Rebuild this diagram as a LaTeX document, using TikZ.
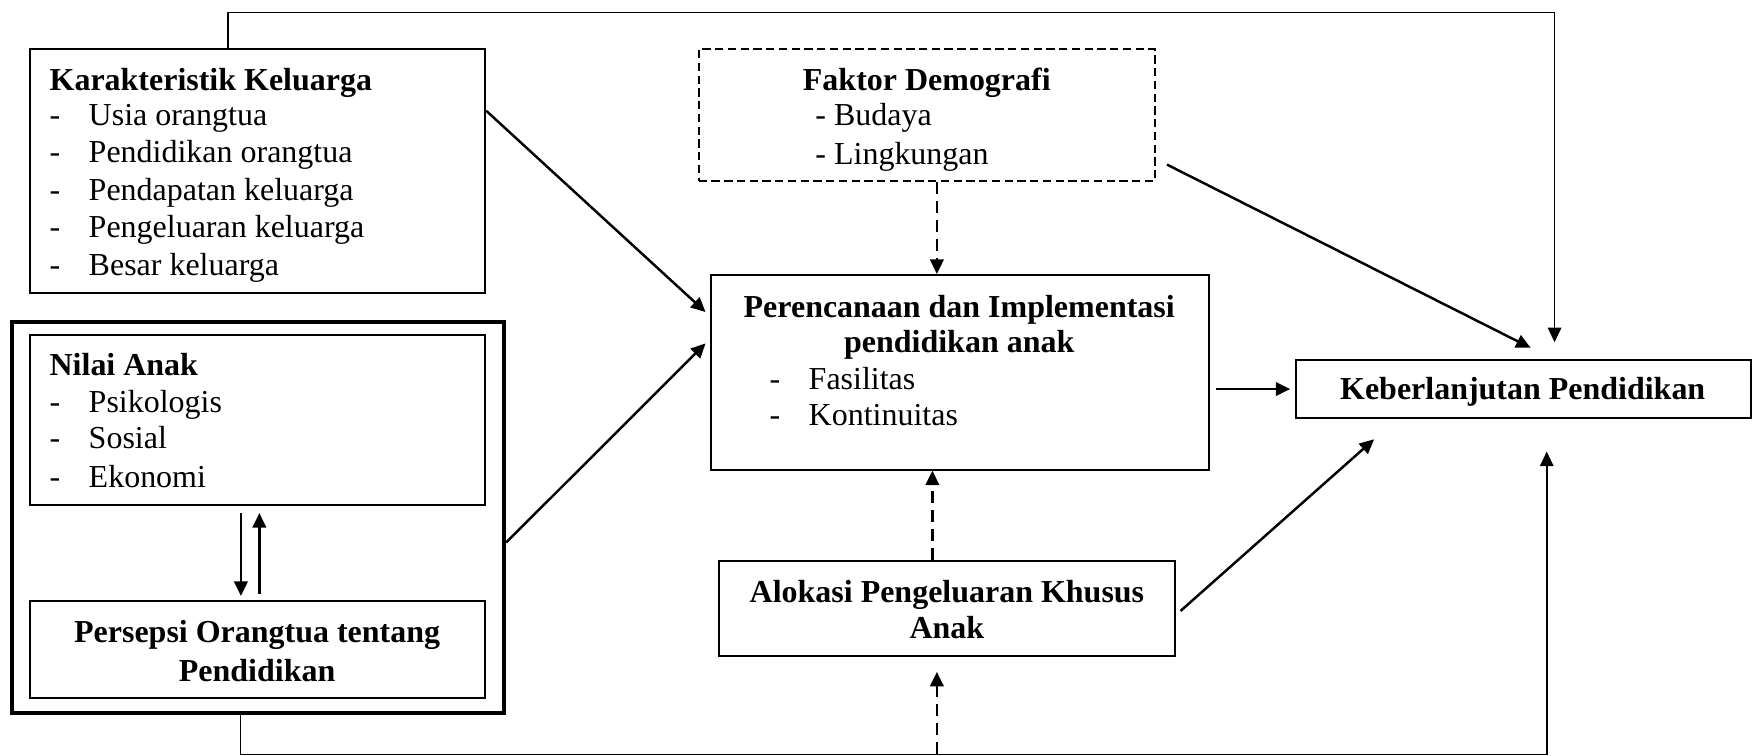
\documentclass[tikz,border=0pt]{standalone}
\usepackage{fontspec}
\setmainfont{Liberation Serif}
\usetikzlibrary{arrows.meta,calc,fit}
\begin{document}
\begin{tikzpicture}[x=0.5pt,y=-0.5pt,
  box/.style={draw, line width=0.9pt, inner sep=0pt},
  outerbox/.style={draw, line width=1.7pt, inner sep=0pt},
  dbox/.style={draw, line width=0.8pt, inner sep=0pt, dash pattern=on 3.7pt off 2pt},
  txt/.style={inner sep=0pt, font=\fontsize{14.3}{16.75}\selectfont},
  bt/.style={inner sep=0pt, font=\fontsize{14.3}{16.75}\selectfont\bfseries},
  tip/.style={-{Triangle[length=6.5pt,width=6pt]}},
  arr/.style={line width=1.1pt, tip},
  thinline/.style={line width=0.7pt},
  darr/.style={line width=1.2pt, tip, dash pattern=on 5.5pt off 3pt},
]
\useasboundingbox (0,0) rectangle (1568,676);

% boxes
\node[box, fit={(27,44) (434,262)}] (kk) {};
\node[outerbox, fit={(11,288) (451,638)}] (outer) {};
\node[box, fit={(27,300) (434,452)}] (na) {};
\node[box, fit={(27,538) (434,624)}] (pp) {};
\node[dbox, fit={(625,44) (1033,162)}] (fd) {};
\node[box, fit={(636,246) (1081,420)}] (per) {};
\node[box, fit={(643,502) (1051,587)}] (al) {};
\node[box, fit={(1159,322) (1566,374)}] (kb) {};

% Karakteristik Keluarga
\node[bt, anchor=base west] (kk0) at (44,81) {Karakteristik Keluarga};
\node[txt, anchor=base west] (kk1) at (44,112) {\makebox[17.5pt][l]{-}Usia orangtua};
\node[txt, anchor=base west] (kk2) at (44,145.5) {\makebox[17.5pt][l]{-}Pendidikan orangtua};
\node[txt, anchor=base west] (kk3) at (44,179) {\makebox[17.5pt][l]{-}Pendapatan keluarga};
\node[txt, anchor=base west] (kk4) at (44,212.5) {\makebox[17.5pt][l]{-}Pengeluaran keluarga};
\node[txt, anchor=base west] (kk5) at (44,246) {\makebox[17.5pt][l]{-}Besar keluarga};

% Nilai Anak
\node[bt, anchor=base west] (na0) at (44,336) {Nilai Anak};
\node[txt, anchor=base west] (na1) at (44,369) {\makebox[17.5pt][l]{-}Psikologis};
\node[txt, anchor=base west] (na2) at (44,401.5) {\makebox[17.5pt][l]{-}Sosial};
\node[txt, anchor=base west] (na3) at (44,436) {\makebox[17.5pt][l]{-}Ekonomi};

% Persepsi
\node[bt, anchor=base] (pp0) at (230,575) {Persepsi Orangtua tentang};
\node[bt, anchor=base] (pp1) at (230,610) {Pendidikan};

% Faktor Demografi
\node[bt, anchor=base] (fd0) at (829,81) {Faktor Demografi};
\node[txt, anchor=base west] (fd1) at (729,112) {- Budaya};
\node[txt, anchor=base west] (fd2) at (729,147) {- Lingkungan};

% Perencanaan
\node[bt, anchor=base] (per0) at (858,284) {Perencanaan dan Implementasi};
\node[bt, anchor=base] (per1) at (858,315) {pendidikan anak};
\node[txt, anchor=base west] (per2) at (688,348) {\makebox[17.5pt][l]{-}Fasilitas};
\node[txt, anchor=base west] (per3) at (688,381) {\makebox[17.5pt][l]{-}Kontinuitas};

% Alokasi
\node[bt, anchor=base] (al0) at (847,539) {Alokasi Pengeluaran Khusus};
\node[bt, anchor=base] (al1) at (847,571) {Anak};

% Keberlanjutan
\node[bt, anchor=base] (kb0) at (1362,357) {Keberlanjutan Pendidikan};

% connectors
\draw[arr] ($(kk.north east)+(0,56)$) -- ($(per.north west)+(-4,34)$);
\draw[arr] ($(outer.north east)+(0,199)$) -- ($(per.north west)+(-4,62)$);
\draw[arr] ($(fd.north east)+(10,104)$) -- ($(kb.north west)+(211,-10)$);
\draw[arr] ($(per.east |- kb.west)+(6,0)$) -- ($(kb.west)+(-4,0)$);
\draw[arr] ($(al.east)+(4,2)$) -- ($(kb.south west)+(71,18)$);

\draw[thinline, tip] ($(kk.north west)+(178,0)$) -- ++(0,-32) -| ($(kb.north)+(28,-15)$);
\draw[thinline, tip] ($(outer.south west)+(206,0)$) -- ++(0,35) coordinate (bl) -| ($(kb.south)+(21,29)$);
\coordinate (bm) at ($(bl -| al.south)+(-9,0)$);
\draw[darr] (bm) -- ($(bm |- al.south)+(0,13)$);

\draw[darr] ($(fd.south)+(9,0)$) coordinate (q) -- (q |- per.north);
\draw[darr] ($(al.north)+(-13,0)$) coordinate (r) -- (r |- per.south);

\draw[arr] ($(na.south)+(-15,6)$) coordinate (s1) -- ($(s1 |- pp.north)+(0,-4)$);
\draw[arr] ($(pp.north)+(1.5,-6)$) coordinate (s2) -- ($(s2 |- na.south)+(0,6)$);
\end{tikzpicture}
\end{document}
